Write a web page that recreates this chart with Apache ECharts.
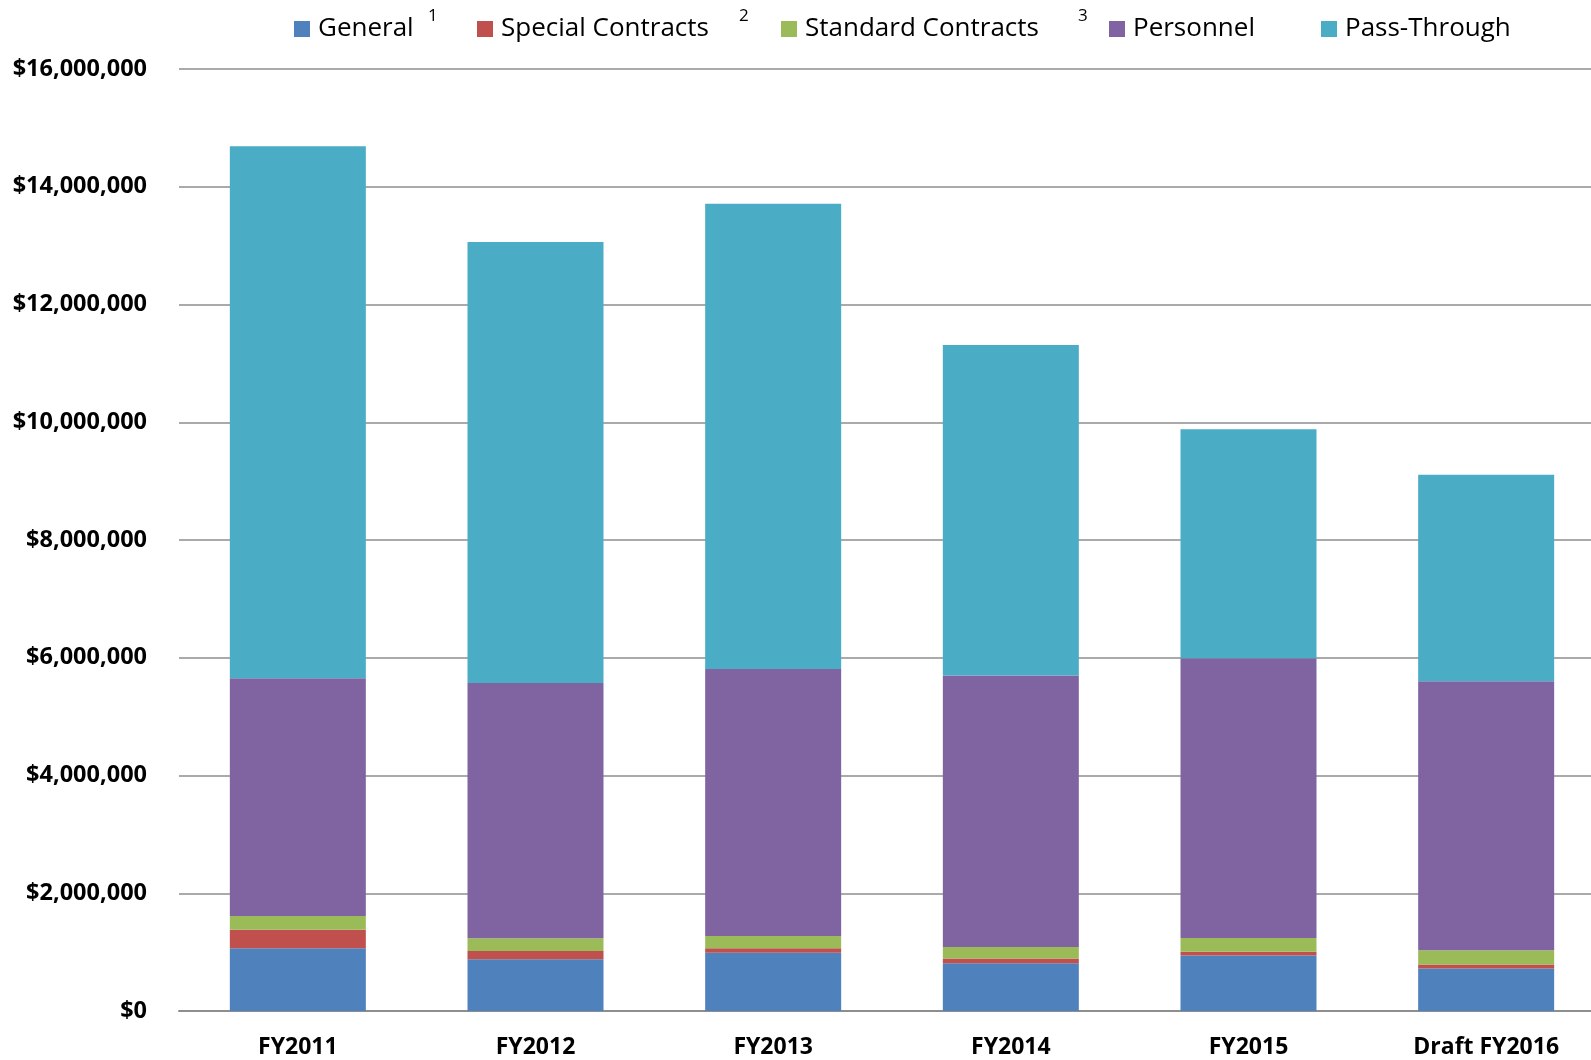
<!DOCTYPE html>
<html>
<head>
<meta charset="utf-8">
<script src="https://cdn.jsdelivr.net/npm/echarts@6/dist/echarts.min.js"></script>
<style>
html,body{margin:0;padding:0;background:#fff;}
#chart{width:1591px;height:1060px;}
</style>
</head>
<body>
<div id="chart"></div>
<script>
const categories = ['FY2011', 'FY2012', 'FY2013', 'FY2014', 'FY2015', 'Draft FY2016'];
const seriesNames = ['General', 'Special Contracts', 'Standard Contracts', 'Personnel', 'Pass-Through'];
const general = [1065000, 878000, 990000, 810000, 942000, 720000];
const specialContracts = [317000, 142000, 75000, 80000, 63000, 68000];
const standardContracts = [233000, 215000, 210000, 198000, 236000, 243000];
const personnel = [4035000, 4335000, 4535000, 4612000, 4749000, 4569000];
const passThrough = [9040000, 7490000, 7900000, 5610000, 3890000, 3510000];
const footnotes = ['1', '2', '3'];

const colors = ['#4F81BD', '#C0504D', '#9BBB59', '#8064A2', '#4BACC6'];
const seriesData = [general, specialContracts, standardContracts, personnel, passThrough];
const legendLefts = [289, 472, 776, 1104, 1316];
const footLefts = [428, 739, 1078];

const chart = echarts.init(document.getElementById('chart'));
const fontFamily = '"Open Sans", "Liberation Sans", sans-serif';

const legends = seriesNames.map((n, i) => ({
  data: [n],
  left: legendLefts[i],
  top: 9,
  itemWidth: 16,
  itemHeight: 16,
  icon: 'rect',
  itemStyle: { borderWidth: 0 },
  selectedMode: false,
  textStyle: {
    fontFamily: fontFamily,
    fontSize: 26,
    color: '#000',
    lineHeight: 30,
    padding: [0, 0, 0, 3]
  }
}));

const option = {
  animation: false,
  color: colors,
  legend: legends,
  grid: { left: 179, top: 69, bottom: 49, width: 1426, outerBoundsMode: 'none' },
  graphic: footnotes.map((t, i) => ({
    type: 'text',
    left: footLefts[i],
    top: 8,
    style: { text: t, fontFamily: fontFamily, fontSize: 17, fill: '#000' }
  })),
  xAxis: {
    type: 'category',
    data: categories,
    axisTick: { show: false },
    axisLine: { lineStyle: { color: '#8E8E8E', width: 2 } },
    axisLabel: {
      margin: 25,
      color: '#000',
      fontFamily: fontFamily,
      fontWeight: 'bold',
      fontSize: 23
    }
  },
  yAxis: {
    type: 'value',
    min: 0,
    max: 16000000,
    interval: 2000000,
    axisLine: { show: false },
    axisTick: { show: false },
    splitLine: { lineStyle: { color: '#8E8E8E', width: 1.5 } },
    axisLabel: {
      margin: 32,
      color: '#000',
      fontFamily: fontFamily,
      fontWeight: 'bold',
      fontSize: 23.5,
      formatter: v => '$' + v.toLocaleString('en-US')
    }
  },
  series: seriesNames.map((n, i) => ({
    name: n,
    type: 'bar',
    stack: 'total',
    barWidth: 136,
    data: seriesData[i],
    itemStyle: { color: colors[i] }
  }))
};
chart.setOption(option);
</script>
</body>
</html>
